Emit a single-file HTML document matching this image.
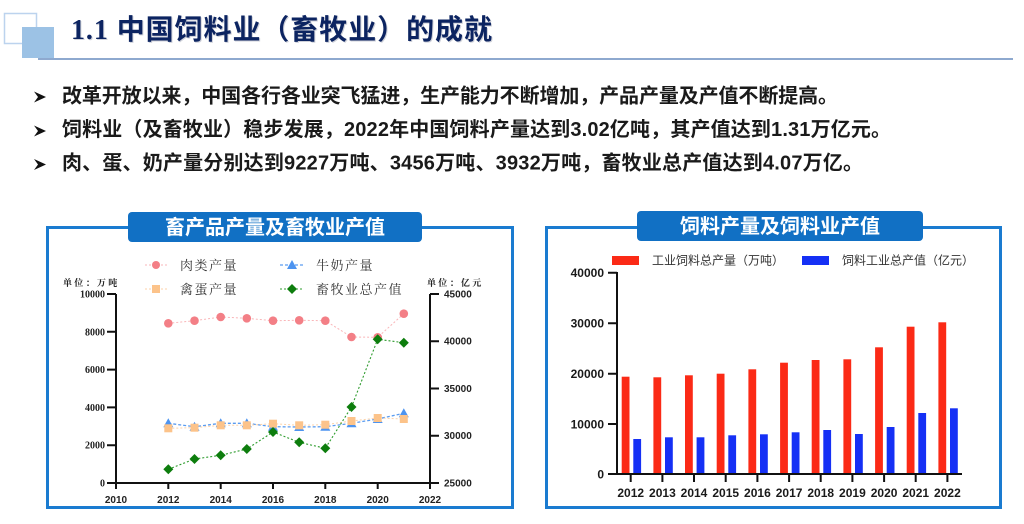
<!DOCTYPE html>
<html><head><meta charset="utf-8"><style>
html,body{margin:0;padding:0;background:#fff;}
svg{display:block;}
.cjk{font-family:"Liberation Sans","Noto Sans CJK SC",sans-serif;}
.ser{font-family:"Liberation Serif","Noto Serif CJK SC",serif;}
</style></head><body>
<svg width="1024" height="524" viewBox="0 0 1024 524" xmlns="http://www.w3.org/2000/svg">
<rect width="1024" height="524" fill="#fff"/>
<!-- header decor -->
<rect x="4.5" y="13.5" width="32" height="30" fill="#fff" stroke="#bcd3ee" stroke-width="1.5"/>
<rect x="22" y="27" width="32" height="31" fill="#9cc2e5"/>
<line x1="38" y1="59" x2="1013" y2="59" stroke="#8ea9cf" stroke-width="2"/>
<text x="72" y="40" font-size="28" font-weight="bold" fill="#b0b4c0" opacity="0.6" class="cjk" textLength="421" lengthAdjust="spacing"><tspan font-family="Liberation Serif">1.1 </tspan>中国饲料业（畜牧业）的成就</text>
<text x="71" y="39" font-size="28" font-weight="bold" fill="#0c2461" class="cjk" textLength="421" lengthAdjust="spacing"><tspan font-family="Liberation Serif">1.1 </tspan>中国饲料业（畜牧业）的成就</text>

<!-- bullets -->
<g fill="#111">
<path d="M34,91.5 L46,97 L34,102.5 L38,97 Z"/>
<path d="M34,125.5 L46,131 L34,136.5 L38,131 Z"/>
<path d="M34,159 L46,164.5 L34,170 L38,164.5 Z"/>
</g>
<g font-size="20" font-weight="bold" fill="#1a1a1a" class="cjk">
<text x="62" y="102.5" textLength="776" lengthAdjust="spacing">改革开放以来，中国各行各业突飞猛进，生产能力不断增加，产品产量及产值不断提高。</text>
<text x="62" y="136" textLength="829" lengthAdjust="spacing">饲料业（及畜牧业）稳步发展，2022年中国饲料产量达到3.02亿吨，其产值达到1.31万亿元。</text>
<text x="62" y="169.5" textLength="801" lengthAdjust="spacing">肉、蛋、奶产量分别达到9227万吨、3456万吨、3932万吨，畜牧业总产值达到4.07万亿。</text>
</g>

<!-- panels -->
<rect x="47.5" y="227.5" width="465" height="280" fill="#fff" stroke="#1a7bd0" stroke-width="3"/>
<rect x="546.5" y="227.5" width="454" height="280" fill="#fff" stroke="#1a7bd0" stroke-width="3"/>
<rect x="128" y="212" width="294" height="30" rx="4" fill="#1170c4"/>
<rect x="637" y="211" width="286" height="30" rx="4" fill="#1170c4"/>
<text x="275" y="234" font-size="20" font-weight="bold" fill="#fff" text-anchor="middle" class="cjk">畜产品产量及畜牧业产值</text>
<text x="780" y="233" font-size="20" font-weight="bold" fill="#fff" text-anchor="middle" class="cjk">饲料产量及饲料业产值</text>

<!-- LEFT CHART -->
<g class="ser" font-size="9" font-weight="bold" fill="#222" letter-spacing="2.3">
<text x="63" y="286">单位：万吨</text>
<text x="427" y="286">单位：亿元</text>
</g>
<!-- legend -->
<line x1="145" y1="265" x2="167" y2="265" stroke="#f9b5b8" stroke-width="1" stroke-dasharray="2,2"/>
<circle cx="156" cy="265" r="4" fill="#f37f86"/>
<line x1="280" y1="265" x2="303" y2="265" stroke="#5b9cf0" stroke-width="1.2" stroke-dasharray="3,2"/>
<polygon points="292,260 287,269 297,269" fill="#4d94f0"/>
<line x1="145" y1="289" x2="167" y2="289" stroke="#fcd2a8" stroke-width="1" stroke-dasharray="2,2"/>
<rect x="152" y="285" width="8" height="8" fill="#fcc38a"/>
<line x1="280" y1="289" x2="303" y2="289" stroke="#2e9c2e" stroke-width="1" stroke-dasharray="2,2"/>
<polygon points="292,284 297,289 292,294 287,289" fill="#0d7d0d"/>
<g class="ser" font-size="13" fill="#333" letter-spacing="1.5">
<text x="180" y="270">肉类产量</text>
<text x="316" y="270">牛奶产量</text>
<text x="180" y="294">禽蛋产量</text>
<text x="316" y="294">畜牧业总产值</text>
</g>
<!-- axes -->
<g stroke="#111" stroke-width="2" fill="none">
<line x1="116" y1="294" x2="116" y2="484"/>
<line x1="430" y1="294" x2="430" y2="484"/>
<line x1="115" y1="483" x2="431" y2="483"/>
<path d="M107,294H116M107,331.8H116M107,369.6H116M107,407.4H116M107,445.2H116M107,483H116"/>
<path d="M430,294H439M430,341.2H439M430,388.5H439M430,435.7H439M430,483H439"/>
<path d="M116,483V489M168.3,483V489M220.7,483V489M273,483V489M325.3,483V489M377.7,483V489M430,483V489"/>
</g>
<g font-family="Liberation Serif" font-size="10" font-weight="bold" fill="#222" text-anchor="end">
<text x="105" y="297.5">10000</text>
<text x="105" y="335.3">8000</text>
<text x="105" y="373.1">6000</text>
<text x="105" y="410.9">4000</text>
<text x="105" y="448.7">2000</text>
<text x="105" y="486.5">0</text>
</g>
<g font-family="Liberation Sans" font-size="10" font-weight="bold" fill="#222">
<text x="444" y="297.5">45000</text>
<text x="444" y="344.7">40000</text>
<text x="444" y="392">35000</text>
<text x="444" y="439.2">30000</text>
<text x="444" y="486.5">25000</text>
</g>
<g font-family="Liberation Sans" font-size="10" font-weight="bold" fill="#222" text-anchor="middle">
<text x="116" y="503">2010</text>
<text x="168.3" y="503">2012</text>
<text x="220.7" y="503">2014</text>
<text x="273" y="503">2016</text>
<text x="325.3" y="503">2018</text>
<text x="377.7" y="503">2020</text>
<text x="430" y="503">2022</text>
</g>
<!-- series lines -->
<polyline points="168.3,323.3 194.5,320.7 220.7,317 246.8,318.3 273,320.7 299.2,320.3 325.3,320.7 351.5,337 377.7,337.3 403.8,313.7" fill="none" stroke="#f9b5b8" stroke-width="1" stroke-dasharray="2,2"/>
<polyline points="168.3,423.3 194.5,426.7 220.7,423.3 246.8,423.3 273,426.7 299.2,427 325.3,426.7 351.5,423.3 377.7,419 403.8,413.3" fill="none" stroke="#5b9cf0" stroke-width="1.3" stroke-dasharray="3,2"/>
<polyline points="168.3,428.3 194.5,427.7 220.7,425.3 246.8,425.3 273,423.7 299.2,425.3 325.3,424.7 351.5,421 377.7,418 403.8,419" fill="none" stroke="#fcd2a8" stroke-width="1" stroke-dasharray="2,2"/>
<polyline points="168.3,469.3 194.5,459 220.7,455.3 246.8,449 273,432 299.2,442.3 325.3,448.3 351.5,407 377.7,339.3 403.8,342.7" fill="none" stroke="#2e9c2e" stroke-width="1.1" stroke-dasharray="2,2"/>
<!-- meat markers -->
<g fill="#f37f86">
<circle cx="168.3" cy="323.3" r="4.3"/><circle cx="194.5" cy="320.7" r="4.3"/><circle cx="220.7" cy="317" r="4.3"/><circle cx="246.8" cy="318.3" r="4.3"/><circle cx="273" cy="320.7" r="4.3"/><circle cx="299.2" cy="320.3" r="4.3"/><circle cx="325.3" cy="320.7" r="4.3"/><circle cx="351.5" cy="337" r="4.3"/><circle cx="377.7" cy="337.3" r="4.3"/><circle cx="403.8" cy="313.7" r="4.3"/>
</g>
<!-- milk markers -->
<g fill="#4d94f0">
<polygon points="168.3,418.3 163.3,427.3 173.3,427.3"/>
<polygon points="194.5,421.7 189.5,430.7 199.5,430.7"/>
<polygon points="220.7,418.3 215.7,427.3 225.7,427.3"/>
<polygon points="246.8,418.3 241.8,427.3 251.8,427.3"/>
<polygon points="273,421.7 268,430.7 278,430.7"/>
<polygon points="299.2,422 294.2,431 304.2,431"/>
<polygon points="325.3,421.7 320.3,430.7 330.3,430.7"/>
<polygon points="351.5,418.3 346.5,427.3 356.5,427.3"/>
<polygon points="377.7,414 372.7,423 382.7,423"/>
<polygon points="403.8,408.3 398.8,417.3 408.8,417.3"/>
</g>
<!-- egg markers -->
<g fill="#fcc38a">
<rect x="164.3" y="424.3" width="8" height="8"/><rect x="190.5" y="423.7" width="8" height="8"/><rect x="216.7" y="421.3" width="8" height="8"/><rect x="242.8" y="421.3" width="8" height="8"/><rect x="269" y="419.7" width="8" height="8"/><rect x="295.2" y="421.3" width="8" height="8"/><rect x="321.3" y="420.7" width="8" height="8"/><rect x="347.5" y="417" width="8" height="8"/><rect x="373.7" y="414" width="8" height="8"/><rect x="399.8" y="415" width="8" height="8"/>
</g>
<!-- green markers -->
<g fill="#0d7d0d">
<polygon points="168.3,464.3 173.3,469.3 168.3,474.3 163.3,469.3"/>
<polygon points="194.5,454 199.5,459 194.5,464 189.5,459"/>
<polygon points="220.7,450.3 225.7,455.3 220.7,460.3 215.7,455.3"/>
<polygon points="246.8,444 251.8,449 246.8,454 241.8,449"/>
<polygon points="273,427 278,432 273,437 268,432"/>
<polygon points="299.2,437.3 304.2,442.3 299.2,447.3 294.2,442.3"/>
<polygon points="325.3,443.3 330.3,448.3 325.3,453.3 320.3,448.3"/>
<polygon points="351.5,402 356.5,407 351.5,412 346.5,407"/>
<polygon points="377.7,334.3 382.7,339.3 377.7,344.3 372.7,339.3"/>
<polygon points="403.8,337.7 408.8,342.7 403.8,347.7 398.8,342.7"/>
</g>

<!-- RIGHT CHART -->
<rect x="612" y="256" width="27" height="9" fill="#fb2a16"/>
<rect x="802" y="256" width="27" height="9" fill="#1530f5"/>
<g class="cjk" font-size="12" fill="#333">
<text x="652" y="264.5">工业饲料总产量（万吨）</text>
<text x="842" y="264.5">饲料工业总产值（亿元）</text>
</g>
<g fill="#fb2a16">
<rect x="621.7" y="376.7" width="7.8" height="97.3"/>
<rect x="653.4" y="377.3" width="7.8" height="96.7"/>
<rect x="685" y="375.3" width="7.8" height="98.7"/>
<rect x="716.7" y="373.7" width="7.8" height="100.3"/>
<rect x="748.4" y="369.3" width="7.8" height="104.7"/>
<rect x="780.1" y="362.7" width="7.8" height="111.3"/>
<rect x="811.7" y="360" width="7.8" height="114"/>
<rect x="843.4" y="359.3" width="7.8" height="114.7"/>
<rect x="875.1" y="347.3" width="7.8" height="126.7"/>
<rect x="906.7" y="326.7" width="7.8" height="147.3"/>
<rect x="938.4" y="322.3" width="7.8" height="151.7"/>
</g>
<g fill="#1530f5">
<rect x="633.3" y="439" width="7.8" height="35"/>
<rect x="665" y="437.3" width="7.8" height="36.7"/>
<rect x="696.6" y="437.3" width="7.8" height="36.7"/>
<rect x="728.3" y="435.3" width="7.8" height="38.7"/>
<rect x="760" y="434.3" width="7.8" height="39.7"/>
<rect x="791.7" y="432.3" width="7.8" height="41.7"/>
<rect x="823.3" y="430" width="7.8" height="44"/>
<rect x="855" y="434" width="7.8" height="40"/>
<rect x="886.7" y="427" width="7.8" height="47"/>
<rect x="918.3" y="413" width="7.8" height="61"/>
<rect x="950" y="408.3" width="7.8" height="65.7"/>
</g>
<g stroke="#111" stroke-width="2" fill="none">
<line x1="617" y1="272" x2="617" y2="475"/>
<line x1="609" y1="474" x2="962" y2="474"/>
<path d="M608,272.7H617M608,323.3H617M608,373.7H617M608,424H617M608,474H617"/>
<path d="M630.7,474V482M662.4,474V482M694,474V482M725.7,474V482M757.4,474V482M789.1,474V482M820.7,474V482M852.4,474V482M884.1,474V482M915.7,474V482M947.4,474V482"/>
</g>
<g font-family="Liberation Sans" font-size="12" font-weight="bold" fill="#1a1a1a" text-anchor="end">
<text x="604" y="277">40000</text>
<text x="604" y="327.5">30000</text>
<text x="604" y="378">20000</text>
<text x="604" y="428.3">10000</text>
<text x="604" y="478.3">0</text>
</g>
<g font-family="Liberation Sans" font-size="12" font-weight="bold" fill="#1a1a1a" text-anchor="middle">
<text x="630.7" y="497">2012</text>
<text x="662.4" y="497">2013</text>
<text x="694" y="497">2014</text>
<text x="725.7" y="497">2015</text>
<text x="757.4" y="497">2016</text>
<text x="789.1" y="497">2017</text>
<text x="820.7" y="497">2018</text>
<text x="852.4" y="497">2019</text>
<text x="884.1" y="497">2020</text>
<text x="915.7" y="497">2021</text>
<text x="947.4" y="497">2022</text>
</g>
</svg>
</body></html>
